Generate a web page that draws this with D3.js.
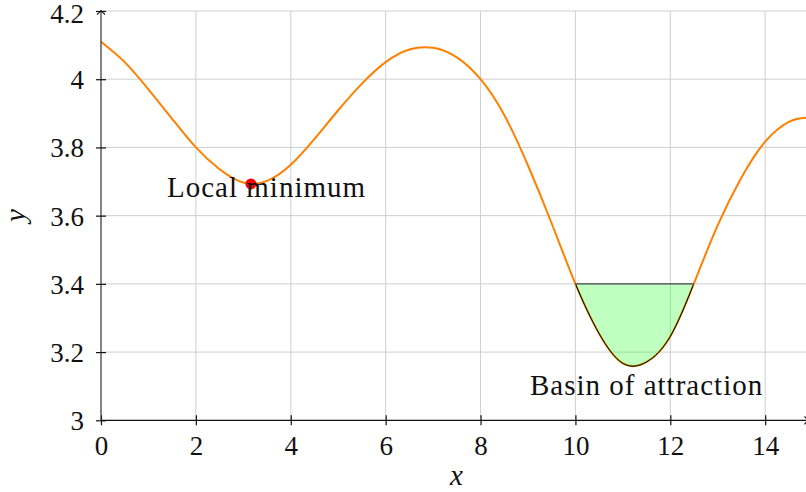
<!DOCTYPE html>
<html>
<head>
<meta charset="utf-8">
<script src="https://cdn.jsdelivr.net/npm/d3@7"></script>
<style>
  html, body { margin: 0; padding: 0; background: #fff; }
  svg { display: block; }
  text { font-family: "Liberation Serif", "Noto Serif", "DejaVu Serif", serif; fill: #111; }
</style>
</head>
<body>
<svg id="chart" width="806" height="492"></svg>
<script>
// ---- data ----
const curveX = [0, 0.5, 1.0, 1.5, 2.0, 2.5, 3.0, 3.5, 4.0, 4.5, 5.0, 5.5, 6.0, 6.5, 7.0, 7.5, 8.0, 8.5, 9.0, 9.5, 10.0, 10.5, 11.0, 11.5, 12.0, 12.5, 13.0, 13.5, 14.0, 14.5, 14.86];
const curveY = [4.110, 4.050, 3.970, 3.884, 3.800, 3.736, 3.697, 3.702, 3.749, 3.825, 3.909, 3.987, 4.050, 4.087, 4.092, 4.064, 4.000, 3.895, 3.747, 3.577, 3.400, 3.254, 3.167, 3.171, 3.246, 3.402, 3.572, 3.712, 3.817, 3.875, 3.887];
const xTicks = [0, 2, 4, 6, 8, 10, 12, 14];
const yTicks = [3, 3.2, 3.4, 3.6, 3.8, 4, 4.2];
const yTickLabels = ["3", "3.2", "3.4", "3.6", "3.8", "4", "4.2"];
const minimumPoint = [3.16, 3.693];
const basinRange = [10, 12.49];
const basinLevel = 3.4;
const labels = [
  { text: "Local minimum", x: 3.49, y: 3.655 },
  { text: "Basin of attraction", x: 11.5, y: 3.075 }
];
const xDomain = [0, 14.86];
const yDomain = [3, 4.2];

// ---- drawing ----
const svg = d3.select("#chart");
const x = d3.scaleLinear().domain(xDomain).range([101, 806]);
const y = d3.scaleLinear().domain(yDomain).range([420.3, 11]);
const pts = curveX.map((v, i) => [v, curveY[i]]);
const FS = 29;
const TFS = 27;

// grid
const grid = svg.append("g").attr("stroke", "#cfcfcf").attr("stroke-width", 1);
grid.selectAll("line.v").data(xTicks.filter(d => d > 0)).join("line")
  .attr("x1", d => x(d)).attr("x2", d => x(d))
  .attr("y1", y(yDomain[0])).attr("y2", y(yDomain[1]));
grid.selectAll("line.h").data(yTicks.filter(d => d > 3)).join("line")
  .attr("x1", x(0)).attr("x2", 806)
  .attr("y1", d => y(d)).attr("y2", d => y(d));

// curve
const line = d3.line().x(d => x(d[0])).y(d => y(d[1])).curve(d3.curveNatural);
svg.append("path").attr("d", line(pts))
  .attr("fill", "none").attr("stroke", "#ff8000").attr("stroke-width", 2);

// basin
const defs = svg.append("defs");
defs.append("clipPath").attr("id", "basinClip").append("rect")
  .attr("x", x(basinRange[0])).attr("width", x(basinRange[1]) - x(basinRange[0]))
  .attr("y", y(basinLevel)).attr("height", y(yDomain[0]) - y(basinLevel));
const area = d3.area().x(d => x(d[0])).y0(y(basinLevel)).y1(d => y(d[1])).curve(d3.curveNatural);
const basinG = svg.append("g").attr("clip-path", "url(#basinClip)");
basinG.append("path").attr("d", area(pts)).attr("fill", "#00ff00").attr("fill-opacity", 0.25);
basinG.append("path").attr("d", line(pts)).attr("fill", "none").attr("stroke", "#000").attr("stroke-width", 1);
svg.append("line")
  .attr("x1", x(basinRange[0])).attr("x2", x(basinRange[1]))
  .attr("y1", y(basinLevel)).attr("y2", y(basinLevel))
  .attr("stroke", "#444").attr("stroke-width", 1.2);

// axes
const xAxis = d3.axisBottom(x).tickValues(xTicks).tickFormat(d3.format("d")).tickSizeInner(5).tickSizeOuter(0).tickPadding(12);
const gx = svg.append("g").attr("transform", `translate(0,${y(yDomain[0])})`).call(xAxis);
gx.attr("font-family", null).attr("font-size", null);
gx.select(".domain").attr("d", `M${x(0)},0H806`).attr("stroke", "#111").attr("stroke-width", 1.2);
gx.selectAll(".tick line").attr("y1", -5).attr("y2", 5).attr("stroke", "#111").attr("stroke-width", 1.2);
gx.selectAll(".tick text").attr("font-size", TFS).attr("fill", "#111")
  .attr("y", 35).attr("dy", 0);

const yAxis = d3.axisLeft(y).tickValues(yTicks).tickFormat((d, i) => yTickLabels[i]).tickSizeInner(5).tickSizeOuter(0).tickPadding(12);
const gy = svg.append("g").attr("transform", `translate(${x(0)},0)`).call(yAxis);
gy.attr("font-family", null).attr("font-size", null);
gy.select(".domain").attr("d", `M0,${y(yDomain[0])}V${y(yDomain[1])}`).attr("stroke", "#333").attr("stroke-width", 1.2);
gy.selectAll(".tick line").attr("x1", -5).attr("x2", 5).attr("stroke", "#111").attr("stroke-width", 1.2);
gy.selectAll(".tick text").attr("font-size", TFS).attr("fill", "#111")
  .attr("x", -17).attr("dy", d => d === yDomain[1] ? "0.42em" : "0.35em");

// arrow heads
const arrow = "M-3.5,-4 Q-1,-1 0.5,0 Q-1,1 -3.5,4";
svg.append("path").attr("d", arrow)
  .attr("transform", `translate(${x(0)},${y(yDomain[1])}) rotate(-90)`)
  .attr("fill", "none").attr("stroke", "#111").attr("stroke-width", 1.1);
svg.append("path").attr("d", arrow)
  .attr("transform", `translate(808,${y(yDomain[0])})`)
  .attr("fill", "none").attr("stroke", "#111").attr("stroke-width", 1.1);

// axis titles
svg.append("text").text("x").attr("x", (x(0) + 806) / 2 + 3).attr("y", 485)
  .attr("text-anchor", "middle").attr("font-style", "italic").attr("font-size", FS);
svg.append("text").text("y").attr("transform", `translate(25,${(y(yDomain[0]) + y(yDomain[1])) / 2}) rotate(-90)`)
  .attr("text-anchor", "middle").attr("font-style", "italic").attr("font-size", FS);

// minimum marker
svg.append("circle").attr("cx", x(minimumPoint[0])).attr("cy", y(minimumPoint[1])).attr("r", 5.5).attr("fill", "#ff0000");

// labels
svg.selectAll("text.lbl").data(labels).join("text").attr("class", "lbl")
  .attr("x", d => x(d.x)).attr("y", d => y(d.y))
  .attr("text-anchor", "middle").attr("font-size", FS).attr("letter-spacing", "1px")
  .text(d => d.text);
</script>
</body>
</html>
